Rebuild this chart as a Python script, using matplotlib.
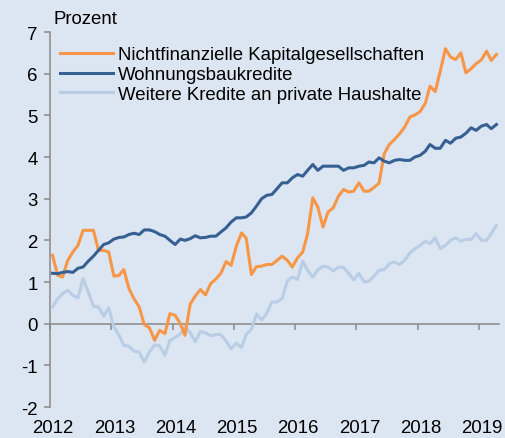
import pandas as pd
import matplotlib
matplotlib.use('Agg')
import matplotlib.pyplot as plt

plt.rcParams['font.family'] = ['Liberation Sans', 'DejaVu Sans']
plt.rcParams['axes.unicode_minus'] = False

# monthly values, Jan 2012 - Apr 2019
nfk = [1.64, 1.16, 1.12, 1.52, 1.72, 1.88, 2.24, 2.24, 2.24, 1.76, 1.76, 1.72,
       1.14, 1.16, 1.30, 0.84, 0.60, 0.40, -0.02, -0.10, -0.40, -0.16, -0.24, 0.24,
       0.20, 0.00, -0.28, 0.47, 0.66, 0.82, 0.69, 0.96, 1.07, 1.21, 1.49, 1.40,
       1.86, 2.18, 2.05, 1.18, 1.37, 1.38, 1.42, 1.42, 1.52, 1.62, 1.52, 1.36,
       1.58, 1.72, 2.16, 3.02, 2.80, 2.32, 2.68, 2.78, 3.06, 3.22, 3.16, 3.18,
       3.38, 3.18, 3.18, 3.27, 3.37, 4.08, 4.30, 4.42, 4.56, 4.72, 4.96, 5.01,
       5.09, 5.29, 5.70, 5.57, 6.06, 6.60, 6.40, 6.34, 6.50, 6.02, 6.12, 6.24,
       6.33, 6.54, 6.32, 6.46]

wohnbau = [1.21, 1.20, 1.23, 1.25, 1.23, 1.33, 1.36, 1.50, 1.62, 1.76, 1.90, 1.94,
           2.03, 2.07, 2.08, 2.14, 2.17, 2.14, 2.25, 2.25, 2.21, 2.14, 2.10, 2.00,
           1.90, 2.03, 2.00, 2.04, 2.11, 2.06, 2.07, 2.10, 2.10, 2.20, 2.30, 2.44,
           2.54, 2.54, 2.56, 2.66, 2.82, 3.00, 3.08, 3.10, 3.24, 3.38, 3.38, 3.50,
           3.58, 3.54, 3.68, 3.82, 3.68, 3.78, 3.78, 3.78, 3.78, 3.68, 3.74, 3.74,
           3.78, 3.80, 3.88, 3.86, 3.98, 3.90, 3.86, 3.92, 3.94, 3.92, 3.92, 4.00,
           4.04, 4.14, 4.30, 4.21, 4.21, 4.40, 4.33, 4.45, 4.48, 4.57, 4.70, 4.64,
           4.74, 4.78, 4.68, 4.78]

weitere = [0.40, 0.60, 0.72, 0.80, 0.68, 0.62, 1.08, 0.76, 0.42, 0.40, 0.18, 0.38,
           -0.08, -0.28, -0.52, -0.54, -0.66, -0.68, -0.92, -0.68, -0.51, -0.53, -0.76, -0.40,
           -0.33, -0.25, -0.07, -0.22, -0.43, -0.19, -0.22, -0.29, -0.26, -0.26, -0.42, -0.60,
           -0.47, -0.57, -0.26, -0.13, 0.23, 0.09, 0.25, 0.52, 0.52, 0.60, 1.03, 1.12,
           1.06, 1.50, 1.28, 1.12, 1.29, 1.38, 1.36, 1.26, 1.36, 1.35, 1.21, 1.05,
           1.21, 1.00, 1.02, 1.14, 1.28, 1.30, 1.44, 1.48, 1.42, 1.52, 1.70, 1.80,
           1.88, 1.98, 1.92, 2.06, 1.80, 1.88, 2.00, 2.06, 1.98, 2.02, 2.02, 2.16,
           2.00, 2.00, 2.16, 2.36]

labels = ['Nichtfinanzielle Kapitalgesellschaften',
          'Wohnungsbaukredite',
          'Weitere Kredite an private Haushalte']
years = [2012, 2013, 2014, 2015, 2016, 2017, 2018, 2019]

# points sit in the middle of each month
dates = pd.date_range('2012-01-01', periods=len(nfk), freq='MS') + pd.Timedelta(days=15)

bg = '#DCE6F2'
grey = '#898989'
fs = 13.4

fig = plt.figure(figsize=(5.05, 4.39), dpi=100, facecolor=bg)
ax = fig.add_axes([0.099, 0.0706, 0.889, 0.8542], facecolor=bg)

ax.plot(dates, nfk, color='#F79646', lw=2.2, label=labels[0], zorder=4)
ax.plot(dates, wohnbau, color='#376092', lw=2.2, label=labels[1], zorder=5)
ax.plot(dates, weitere, color='#B9CDE5', lw=2.2, label=labels[2], zorder=3)

ax.set_ylim(-2, 7)
ax.set_xlim(pd.Timestamp('2012-01-01'), pd.Timestamp('2019-05-01'))

for s in ['top', 'right']:
    ax.spines[s].set_visible(False)
ax.spines['bottom'].set_position(('data', 0))
for s in ['left', 'bottom']:
    ax.spines[s].set_color(grey)
    ax.spines[s].set_linewidth(1.1)
    ax.spines[s].set_zorder(1)

ax.set_yticks(range(-2, 8))
ax.set_xticks([pd.Timestamp(str(y) + '-01-01') for y in years])
ax.tick_params(axis='y', direction='out', length=4, width=1.1, color=grey,
               labelsize=fs, pad=5)
ax.tick_params(axis='x', direction='out', length=4, width=1.1, color=grey,
               labelbottom=False)

# year labels go along the bottom, not at the zero line
for y in years:
    ax.text(pd.Timestamp(str(y) + '-01-19'), -0.055, str(y), fontsize=fs,
            ha='center', va='center', transform=ax.get_xaxis_transform())

ax.text(0.0067, 1.035, 'Prozent', fontsize=fs, ha='left', va='center',
        transform=ax.transAxes)

ax.legend(loc='upper left', bbox_to_anchor=(0.0223, 0.962), frameon=False,
          fontsize=fs, handlelength=2.85, handletextpad=0.25, labelspacing=0.15,
          borderpad=0, borderaxespad=0)

fig.savefig('out.png', dpi=100, facecolor=bg)
